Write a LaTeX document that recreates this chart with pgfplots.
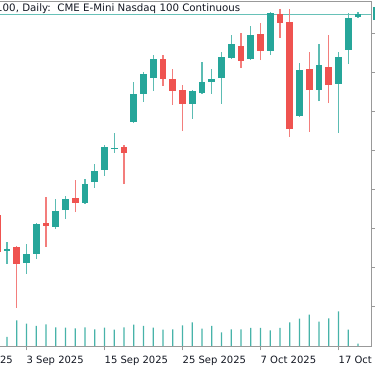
\documentclass[border=0pt]{standalone}
\usepackage{pgfplots}
\pgfplotsset{compat=1.18}
\usepackage{pgfplotstable}
\usepackage{fontspec}
\setmainfont{DejaVu Sans}
\definecolor{up}{HTML}{26A69A}
\definecolor{dn}{HTML}{EF5350}
\definecolor{axgray}{HTML}{999999}
\definecolor{txt}{HTML}{131722}

% index: 0 = 29 Aug 2025, 1 = 1 Sep 2025, ... 37 = 21 Oct 2025 (trading days)
\pgfplotstableread{
i O H L C
1 23608 23666 23525 23621
3 23531 23653 23461 23589
4 23589 23787 23557 23781
6 23762 23941 23749 23864
7 23870 23960 23813 23941
9 23915 24068 23910 24036
10 24049 24164 24011 24120
11 24126 24286 24088 24273
12 24260 24362 24235 24267
14 24433 24689 24426 24612
15 24612 24753 24561 24740
16 24714 24861 24631 24836
20 24548 24637 24452 24631
21 24618 24817 24612 24689
22 24689 24772 24612 24708
23 24714 24880 24548 24848
24 24842 24989 24836 24932
26 24836 25047 24830 24989
28 24887 25136 24861 25130
31 24471 24810 24465 24765
33 24637 24932 24567 24797
35 24676 24880 24363 24848
36 24893 25130 24804 25098
37 25104 25136 25098 25123
}\upc

\pgfplotstableread{
i O H L C
0 23838 23851 23589 23602
2 23634 23640 23244 23525
5 23787 23953 23634 23768
8 23947 24062 23857 23915
13 24273 24286 24036 24235
17 24836 24861 24663 24708
18 24708 24772 24542 24631
19 24637 24669 24375 24548
25 24919 25002 24778 24823
27 24996 25066 24829 24887
29 25123 25155 24970 25066
30 25072 25155 24337 24388
32 24772 24880 24369 24637
34 24785 24989 24554 24669
}\dnc

\pgfplotstableread{
i V
1 216
2 616
3 536
4 480
5 520
6 448
7 440
8 424
9 448
10 400
11 440
12 392
13 448
14 512
15 480
16 440
17 392
18 400
19 496
20 568
21 416
22 480
23 328
24 400
25 400
26 432
27 432
28 376
29 432
30 568
31 656
32 752
33 584
34 664
35 832
36 392
37 56
}\vol

\begin{document}
\begin{tikzpicture}
\useasboundingbox (0pt,0pt) rectangle (375pt,366pt);
\clip (0pt,0pt) rectangle (375pt,366pt);

% volume pane
\begin{axis}[
  at={(-61.25pt,19pt)}, anchor=south west,
  x=9.75pt, y=0.0416667pt,
  xmin=-6, xmax=38.3333,
  ymin=-24, ymax=8263,
  hide axis, ybar, bar width=1.4pt,
]
\addplot[fill=up!85, draw=none] table[x=i, y=V] {\vol};
\end{axis}

% price pane
\begin{axis}[
  at={(-61.25pt,19pt)}, anchor=south west,
  x=9.75pt, y=0.156397pt,
  xmin=-6, xmax=38.3333,
  ymin=22994.2, ymax=25202,
  axis line style={axgray, line width=1pt},
  xtick={-5,3,11,19,27,35},
  xticklabels={22 Aug 2025, 3 Sep 2025, 15 Sep 2025, 25 Sep 2025, 7 Oct 2025, 17 Oct 2025},
  xtick pos=left,
  ytick={23250,23500,23750,24000,24250,24500,24750,25000},
  yticklabels={},
  ytick pos=right,
  tick align=outside,
  major tick length=3.5pt,
  tick style={axgray, line width=1pt},
  xticklabel style={anchor=north west, inner sep=0pt, yshift=-5.5pt,
    font=\fontsize{10}{12}\selectfont, text=txt},
]
% last price line
\addplot[up!70, line width=1pt, mark=none] coordinates {(-6,25123) (38.3333,25123)};
% wicks
\addplot[draw=none, mark=none, error bars/.cd, y dir=plus, y explicit, error mark=none,
  error bar style={draw=up!75, line width=1.2pt}]
  table[x=i, y=L, y error plus expr={\thisrow{H}-\thisrow{L}}] {\upc};
\addplot[draw=none, mark=none, error bars/.cd, y dir=plus, y explicit, error mark=none,
  error bar style={draw=dn!75, line width=1.2pt}]
  table[x=i, y=L, y error plus expr={\thisrow{H}-\thisrow{L}}] {\dnc};
% bodies
\addplot[draw=none, mark=none, error bars/.cd, y dir=plus, y explicit, error mark=none,
  error bar style={draw=up, line width=6.8pt}]
  table[x=i, y=O, y error plus expr={\thisrow{C}-\thisrow{O}}] {\upc};
\addplot[draw=none, mark=none, error bars/.cd, y dir=plus, y explicit, error mark=none,
  error bar style={draw=dn, line width=6.8pt}]
  table[x=i, y=C, y error plus expr={\thisrow{O}-\thisrow{C}}] {\dnc};
\end{axis}

\node[anchor=base west, inner sep=0pt, font=\fontsize{10.25}{12}\selectfont, text=txt]
  at (-4pt,354.5pt) {100, Daily:\ \ CME E-Mini Nasdaq 100 Continuous};
\fill[up] (372.5pt,346pt) rectangle (376pt,359pt);
\end{tikzpicture}
\end{document}
